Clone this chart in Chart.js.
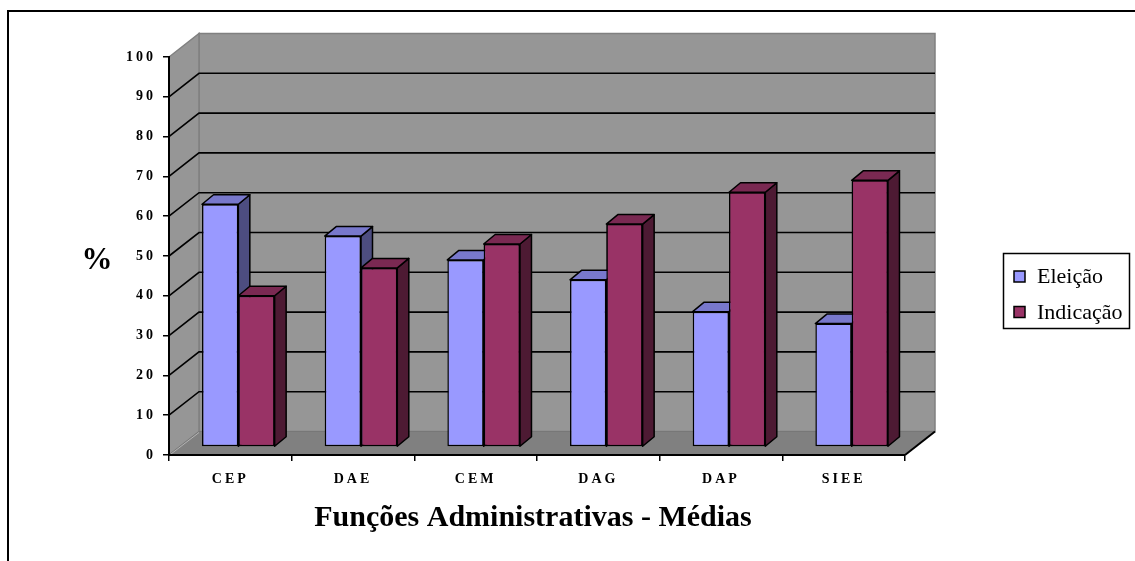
<!DOCTYPE html>
<html>
<head>
<meta charset="utf-8">
<script src="https://cdn.jsdelivr.net/npm/chart.js@4.4.1/dist/chart.umd.min.js"></script>
<style>
  html, body { margin: 0; padding: 0; background: #fff; }
  canvas { display: block; }
</style>
</head>
<body>
<canvas id="c" width="1135" height="561"></canvas>
<script>
// Categories, series and axis settings
const categories = ['CEP', 'DAE', 'CEM', 'DAG', 'DAP', 'SIEE'];
const eleicao = [61, 53, 47, 42, 34, 31];
const indicacao = [38, 45, 51, 56, 64, 67];
const seriesNames = ['Eleição', 'Indicação'];
const yMin = 0;
const yMax = 100;
const yStep = 10;
const xTitle = 'Funções Administrativas - Médias';
const yTitle = '%';

// Oblique depth offsets (pixels) for the walls, the bar plane and the bar thickness
const WALL = { dx: 30, dy: -23.5 };
const BAR_PLANE = { dx: 8, dy: -8 };
const BAR_DEPTH = { dx: 11.5, dy: -9.5 };

const faceColors = [
  { front: '#9999FF', top: '#7878CC', side: '#4D4D80' },
  { front: '#993366', top: '#7A2952', side: '#4D1A33' }
];

const SERIF = "'Liberation Serif', 'Times New Roman', serif";

function poly(ctx, pts, fill, stroke, lw) {
  ctx.beginPath();
  ctx.moveTo(pts[0][0], pts[0][1]);
  for (let i = 1; i < pts.length; i++) ctx.lineTo(pts[i][0], pts[i][1]);
  ctx.closePath();
  if (fill) { ctx.fillStyle = fill; ctx.fill(); }
  if (stroke) { ctx.strokeStyle = stroke; ctx.lineWidth = lw || 1; ctx.stroke(); }
}

// Side and top faces of one dataset's bars
function drawFaces(ctx, meta, cols) {
  const bx = BAR_DEPTH.dx, by = BAR_DEPTH.dy;
  ctx.save();
  ctx.lineJoin = 'round';
  meta.data.forEach(el => {
    const { x, y, base, width } = el.getProps(['x', 'y', 'base', 'width'], true);
    const l = x - width / 2, r = x + width / 2;
    poly(ctx, [[r, y], [r + bx, y + by], [r + bx, base + by], [r, base]], cols.side, '#000', 1.5);
    poly(ctx, [[l, y], [r, y], [r + bx, y + by], [l + bx, y + by]], cols.top, '#000', 1.5);
  });
  ctx.restore();
}

// Walls, floor, gridlines, bar depth, titles and legend
const walls3d = {
  id: 'walls3d',
  beforeDraw(chart) {
    const ctx = chart.ctx;
    const { left, right } = chart.chartArea;
    const ys = chart.scales.y;
    const y0 = ys.getPixelForValue(yMin);
    const yTop = ys.getPixelForValue(yMax);
    ctx.save();
    ctx.fillStyle = '#fff';
    ctx.fillRect(0, 0, chart.width, chart.height);

    // frame
    ctx.strokeStyle = '#000';
    ctx.lineWidth = 2;
    ctx.beginPath();
    ctx.moveTo(8, 561);
    ctx.lineTo(8, 11);
    ctx.lineTo(1135, 11);
    ctx.stroke();

    const { dx, dy } = WALL;
    // back wall
    poly(ctx, [[left + dx, yTop + dy], [right + dx, yTop + dy], [right + dx, y0 + dy], [left + dx, y0 + dy]], '#969696', '#808080', 1.5);
    // side wall
    poly(ctx, [[left, y0], [left + dx, y0 + dy], [left + dx, yTop + dy], [left, yTop]], '#969696', '#808080', 1.5);
    // floor
    poly(ctx, [[left, y0], [right, y0], [right + dx, y0 + dy], [left + dx, y0 + dy]], '#808080', '#777777', 1);
    // light seam where side wall meets floor
    ctx.strokeStyle = '#b4b4b4';
    ctx.lineWidth = 1;
    ctx.beginPath();
    ctx.moveTo(left + 2, y0 - 1);
    ctx.lineTo(left + dx, y0 + dy + 1);
    ctx.stroke();

    // gridlines on back and side walls
    ctx.strokeStyle = '#000';
    ctx.lineWidth = 1.6;
    for (let v = yMin + yStep; v < yMax; v += yStep) {
      const py = ys.getPixelForValue(v);
      ctx.beginPath();
      ctx.moveTo(left, py);
      ctx.lineTo(left + dx, py + dy);
      ctx.lineTo(right + dx, py + dy);
      ctx.stroke();
    }
    ctx.restore();
    // spaced lettering for the axis tick labels
    ctx.letterSpacing = '3px';
  },
  beforeDatasetsDraw(chart) {
    chart.ctx.save();
    chart.ctx.translate(BAR_PLANE.dx, BAR_PLANE.dy);
  },
  afterDatasetsDraw(chart) {
    const ctx = chart.ctx;
    // series from front-left to back-right: each later series' front face covers
    // the side face of the one before it
    chart.data.datasets.forEach((ds, i) => {
      const meta = chart.getDatasetMeta(i);
      if (i > 0) meta.data.forEach(el => el.draw(ctx));
      drawFaces(ctx, meta, faceColors[i]);
    });
    ctx.restore();
  },
  afterDraw(chart) {
    const ctx = chart.ctx;
    const { right } = chart.chartArea;
    const y0 = chart.scales.y.getPixelForValue(yMin);
    ctx.save();
    ctx.letterSpacing = '0px';

    // right end of the front floor edge
    ctx.strokeStyle = '#000';
    ctx.lineWidth = 2;
    ctx.beginPath();
    ctx.moveTo(right, y0);
    ctx.lineTo(right + WALL.dx, y0 + WALL.dy);
    ctx.stroke();

    ctx.fillStyle = '#000';
    ctx.textBaseline = 'middle';
    // axis titles
    ctx.textAlign = 'center';
    ctx.font = 'bold 30px ' + SERIF;
    ctx.fillText(xTitle, 533, 518);
    ctx.font = 'bold 31px ' + SERIF;
    ctx.fillText(yTitle, 97, 261);

    // legend
    ctx.lineWidth = 1.5;
    ctx.strokeStyle = '#000';
    ctx.strokeRect(1003.5, 253.5, 126, 75);
    ctx.font = '22px ' + SERIF;
    ctx.textAlign = 'left';
    const rows = [276.5, 312];
    chart.data.datasets.forEach((ds, i) => {
      const cy = rows[i];
      ctx.fillStyle = ds.backgroundColor;
      ctx.fillRect(1014, cy - 5.5, 11, 11);
      ctx.strokeRect(1014, cy - 5.5, 11, 11);
      ctx.fillStyle = '#000';
      ctx.fillText(ds.label, 1037, cy + 1);
    });
    ctx.restore();
  }
};

new Chart(document.getElementById('c'), {
  type: 'bar',
  data: {
    labels: categories,
    datasets: [
      {
        label: seriesNames[0], data: eleicao,
        backgroundColor: faceColors[0].front, borderColor: '#000', borderWidth: 1.5, borderSkipped: false
      },
      {
        label: seriesNames[1], data: indicacao,
        backgroundColor: faceColors[1].front, borderColor: '#000', borderWidth: 1.5, borderSkipped: false
      }
    ]
  },
  options: {
    responsive: false,
    animation: false,
    events: [],
    layout: { padding: { left: 20, right: 230, top: 57, bottom: 0 } },
    datasets: { bar: { categoryPercentage: 0.592, barPercentage: 1.0, clip: false } },
    plugins: { legend: { display: false }, tooltip: { enabled: false }, title: { display: false } },
    scales: {
      x: {
        offset: true,
        grid: { offset: true, drawOnChartArea: false, drawTicks: true, tickLength: 6, color: '#000', lineWidth: 1.5 },
        border: { display: true, color: '#000', width: 2 },
        ticks: { color: '#000', font: { family: SERIF, size: 14, weight: 'bold' }, padding: 10, maxRotation: 0 },
        afterFit(s) { s.height = 106; }
      },
      y: {
        min: yMin, max: yMax,
        grid: { drawOnChartArea: false, drawTicks: true, tickLength: 6, color: '#000', lineWidth: 1.5 },
        border: { display: true, color: '#000', width: 2 },
        ticks: { stepSize: yStep, color: '#000', font: { family: SERIF, size: 14, weight: 'bold' }, padding: 7 },
        afterFit(s) { s.width = 149; }
      }
    }
  },
  plugins: [walls3d]
});
</script>
</body>
</html>
